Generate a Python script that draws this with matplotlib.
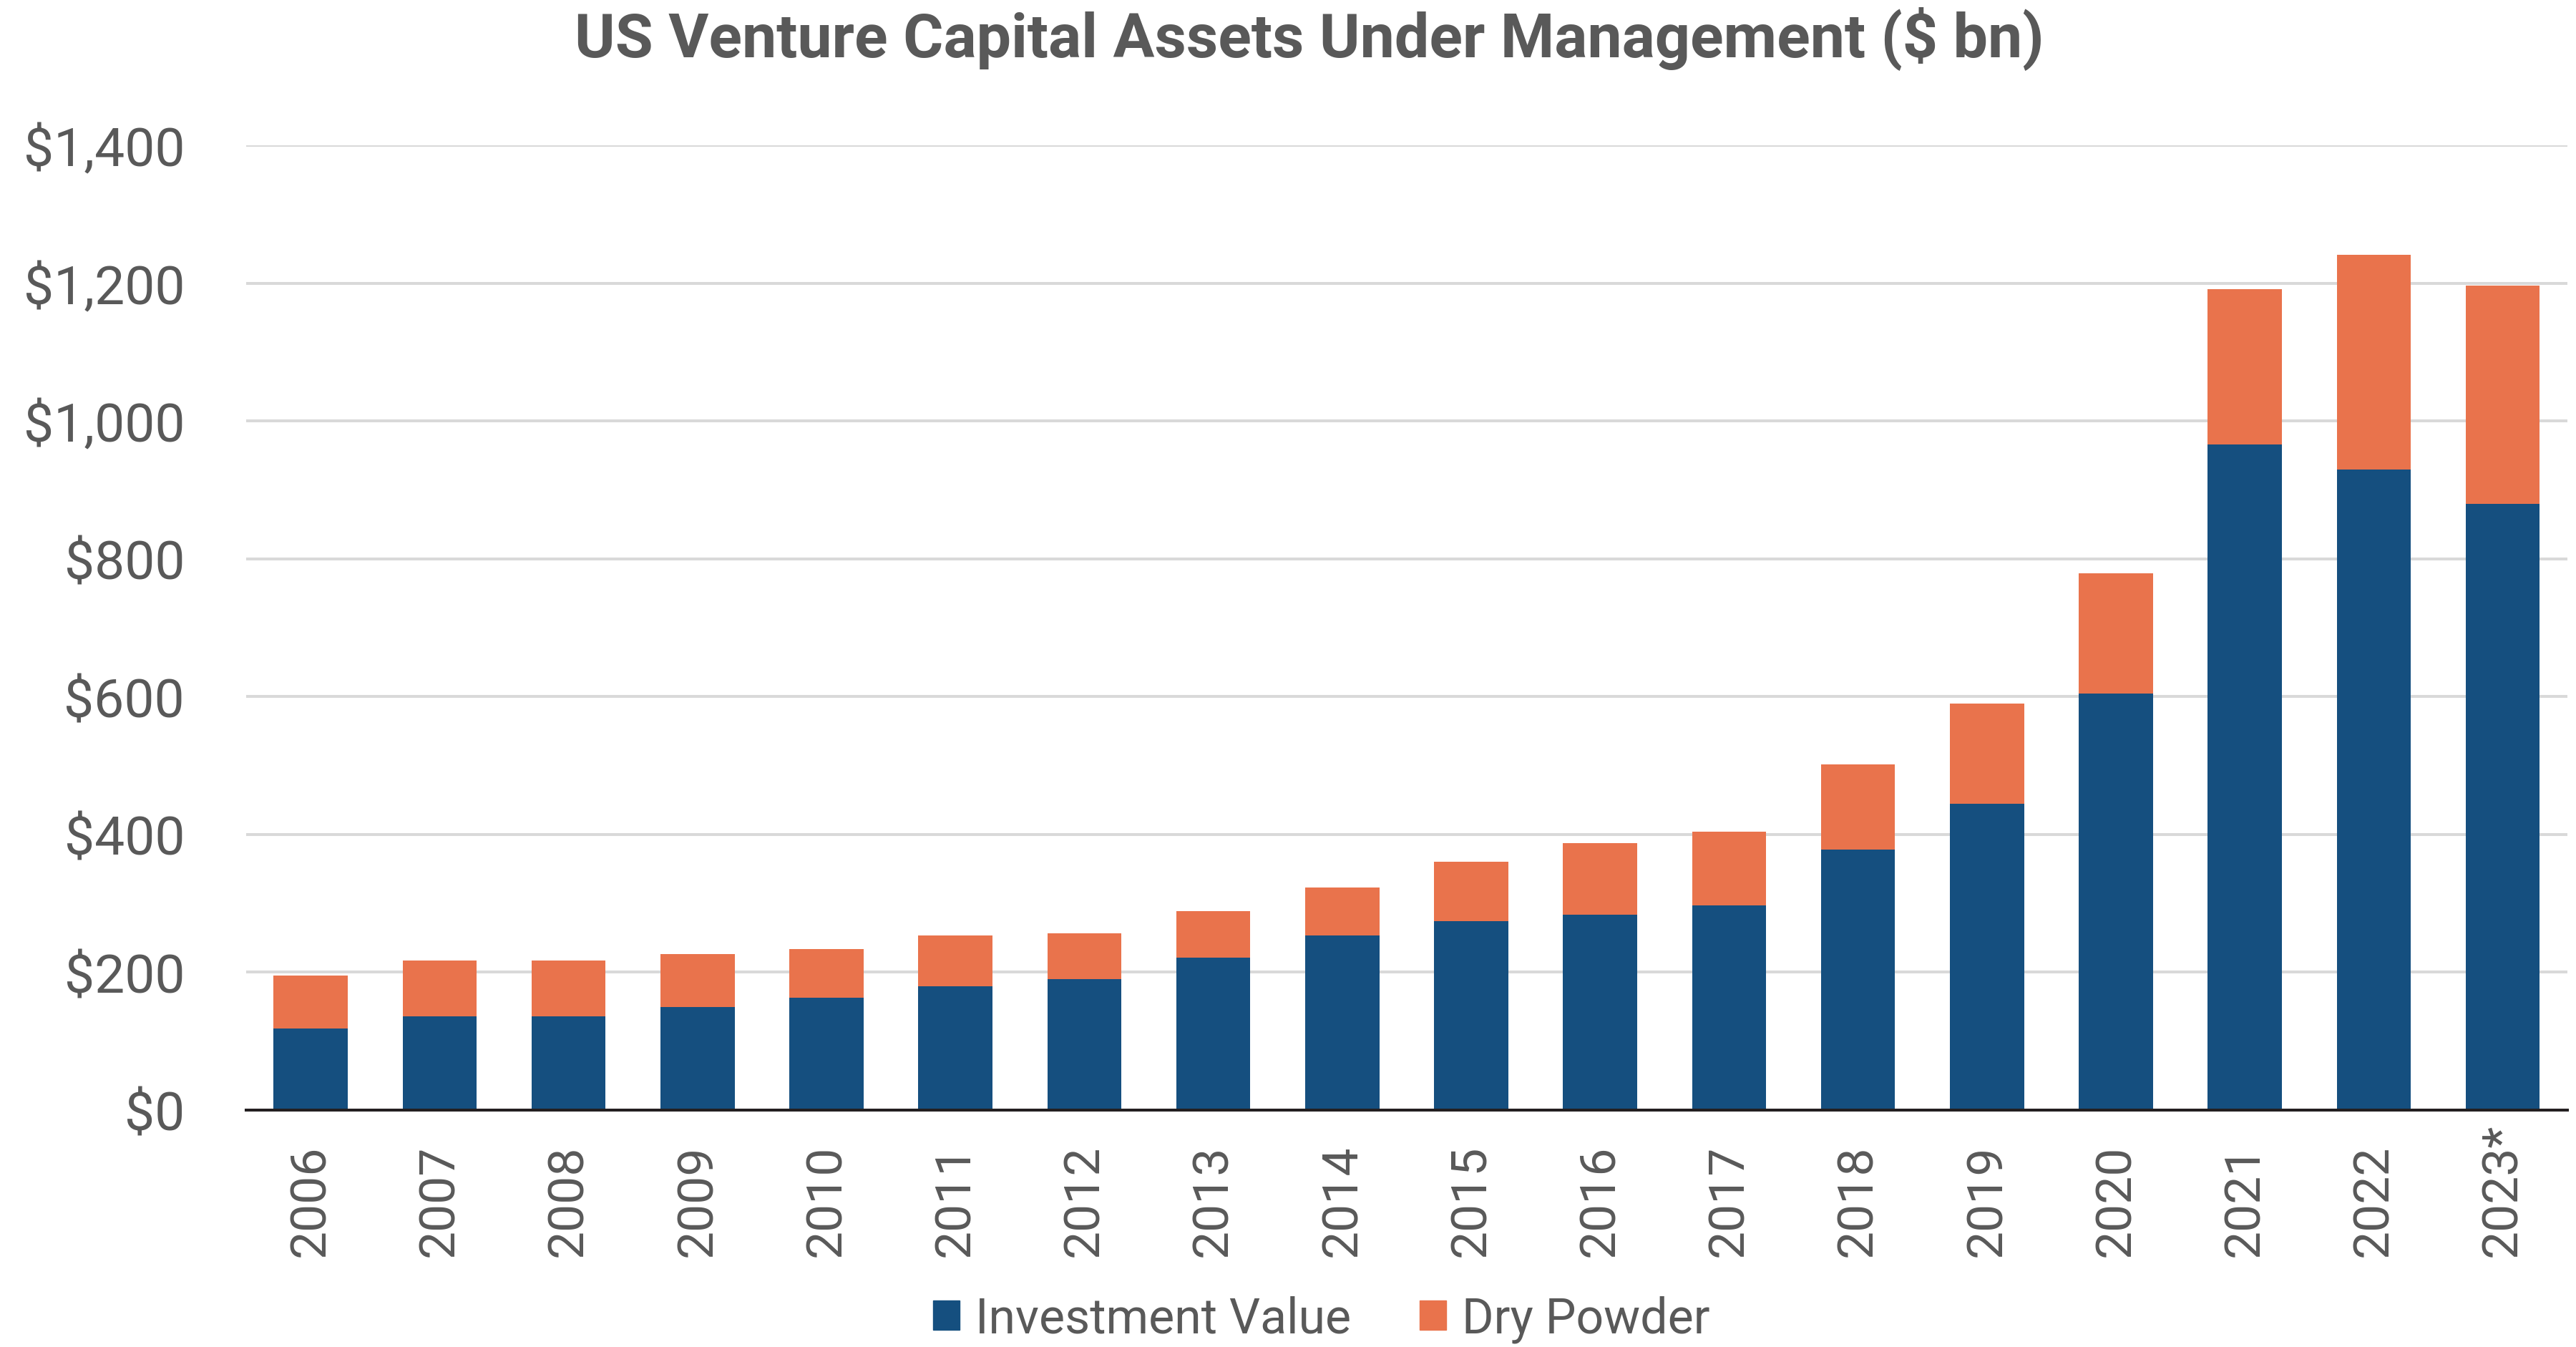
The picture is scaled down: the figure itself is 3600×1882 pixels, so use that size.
import matplotlib
matplotlib.use("Agg")
import matplotlib.pyplot as plt
from matplotlib.patches import Patch

# data ($ bn)
years = ['2006', '2007', '2008', '2009', '2010', '2011', '2012', '2013', '2014',
         '2015', '2016', '2017', '2018', '2019', '2020', '2021', '2022', '2023*']
investment_value = [118, 136, 136, 150, 163, 180, 190, 221, 253,
                    274, 284, 297, 378, 444, 604, 966, 929, 880]
dry_powder = [77, 81, 81, 76, 71, 73, 67, 68, 70,
              86, 103, 107, 124, 146, 175, 225, 312, 316]
y_ticks = [0, 200, 400, 600, 800, 1000, 1200, 1400]
y_labels = ['$0', '$200', '$400', '$600', '$800', '$1,000', '$1,200', '$1,400']

BLUE = '#154F7F'
ORANGE = '#E9734C'
GREY_TXT = '#595959'

plt.rcParams['font.family'] = ['Roboto', 'DejaVu Sans']

fig = plt.figure(figsize=(36, 18.83), dpi=100)
ax = fig.add_axes([0.0956, 0.1758, 0.901, 0.7159])

x = list(range(len(years)))
ax.bar(x, investment_value, width=0.575, color=BLUE, zorder=3, label='Investment Value')
ax.bar(x, dry_powder, width=0.575, bottom=investment_value, color=ORANGE, zorder=3,
       label='Dry Powder')

ax.set_xlim(-0.5, len(years) - 0.5)
ax.set_ylim(0, 1400)
ax.set_yticks(y_ticks)
ax.set_yticklabels(y_labels)
ax.tick_params(axis='y', length=0, pad=62, labelsize=54, labelcolor=GREY_TXT)
ax.set_xticks(x)
ax.set_xticklabels([])
ax.tick_params(axis='x', length=0)
ax.yaxis.grid(True, color='#D9D9D9', linewidth=2.9, zorder=0)
ax.set_axisbelow(True)

for s in ['top', 'right', 'left']:
    ax.spines[s].set_visible(False)
ax.spines['bottom'].set_color('#231F20')
ax.spines['bottom'].set_linewidth(2.9)
ax.spines['bottom'].set_zorder(4)

# year labels, rotated, start of text aligned
for i, yr in enumerate(years):
    ax.text(i, -0.1513, yr, transform=ax.get_xaxis_transform(), rotation=90,
            ha='center', va='bottom', fontsize=50, color=GREY_TXT)

fig.text(0.5083, 1 - 79 / 1883, 'US Venture Capital Assets Under Management ($ bn)',
         ha='center', va='baseline', fontsize=62, fontweight='bold', color=GREY_TXT)

handles = [Patch(color=BLUE, label='Investment Value'),
           Patch(color=ORANGE, label='Dry Powder')]
leg = fig.legend(handles=handles, loc='center', bbox_to_anchor=(0.513, 0.0207),
                 ncol=2, frameon=False, fontsize=49, handlelength=0.55,
                 handleheight=0.55, handletextpad=0.32, columnspacing=1.4)
for t in leg.get_texts():
    t.set_color(GREY_TXT)

fig.savefig('out.png', dpi=100)
